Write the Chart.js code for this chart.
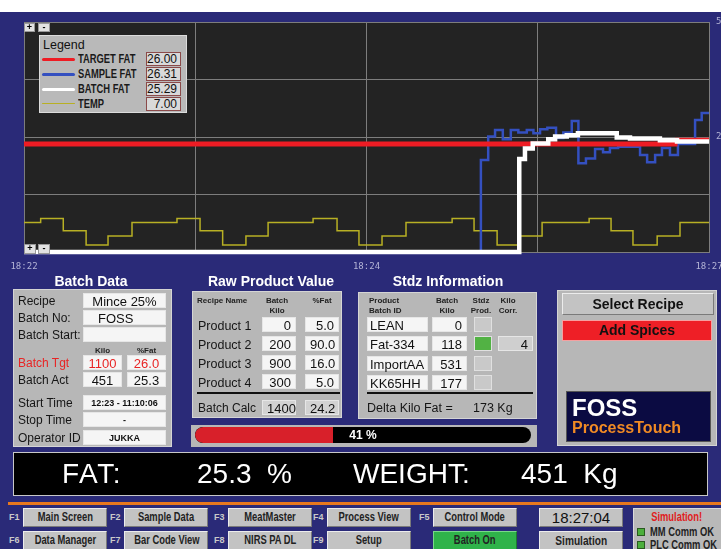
<!DOCTYPE html>
<html>
<head>
<meta charset="utf-8">
<script src="https://cdn.jsdelivr.net/npm/chart.js@4.4.0/dist/chart.umd.min.js"></script>
<style>
body { margin:0; width:721px; height:549px; overflow:hidden; background:#2a2a78; position:relative; font-family:"Liberation Sans", Arial, sans-serif; }
.a { position:absolute; box-sizing:border-box; white-space:nowrap; }
.panel { background:#b7b7b7; border:1px solid #d4d4d4; }
.fld { background:#f5f5f5; border:1px solid #e6e6e6; font-size:13px; line-height:13px; color:#111; padding:0 4px; }
.lbl { font-size:12px; line-height:14px; color:#151515; }
.hd { font:bold 8px "Liberation Sans", sans-serif; color:#222; text-align:center; line-height:10px; }
.ttl { color:#fff; font:bold 14px "Liberation Sans", Arial, sans-serif; text-align:center; width:200px; }
.btn { background:#c3c3c3; border:1px solid; border-color:#ececec #7a7a7a #7a7a7a #ececec; font:bold 12px "Liberation Sans", sans-serif; color:#222; text-align:center; }
.nar { display:inline-block; transform:scaleX(0.78); transform-origin:center; }
.narl { display:inline-block; transform:scaleX(0.78); transform-origin:left; }
.fk { font:bold 9px "Liberation Sans", sans-serif; color:#c9c9c9; }
.pm { background:#e2e2e2; border:1px solid #999; font:bold 9px "Liberation Sans", sans-serif; line-height:7px; text-align:center; color:#000; }
.lg { font:bold 12px "Liberation Sans", sans-serif; color:#1a1a1a; line-height:14px; }
.lv { background:#d9d9d9; border:1px solid #8b4a4a; font-size:12px; line-height:12px; text-align:right; padding-right:3px; color:#111; }
.big { color:#fff; font-size:28px; line-height:30px; }
</style>
</head>
<body>
<div class="a" style="left:0;top:0;width:721px;height:12px;background:#fff"></div>
<div class="a" style="left:0;top:0;width:740px;height:275px"><canvas id="myChart" width="740" height="275"></canvas></div>

<!-- zoom buttons -->
<div class="a pm" style="left:24px;top:23px;width:11px;height:9px">+</div>
<div class="a pm" style="left:38px;top:23px;width:12px;height:9px">-</div>
<div class="a pm" style="left:24px;top:244px;width:12px;height:10px">+</div>
<div class="a pm" style="left:38px;top:244px;width:12px;height:10px">-</div>

<!-- legend -->
<div class="a" id="legend" style="left:39px;top:35px;width:148px;height:78px;background:#b9b9b9;border:1px solid #dcdcdc"></div>

<!-- titles -->
<div class="a ttl" style="left:-9px;top:273px">Batch Data</div>
<div class="a ttl" style="left:171px;top:273px">Raw Product Value</div>
<div class="a ttl" style="left:348px;top:273px">Stdz Information</div>

<!-- batch data -->
<div class="a panel" style="left:13px;top:289px;width:159px;height:158px"></div>
<div class="a lbl" style="left:18px;top:294px">Recipe</div>
<div class="a fld" style="left:83px;top:293px;width:83px;height:15px;text-align:center;padding-top:1px">Mince 25%</div>
<div class="a lbl" style="left:18px;top:311px">Batch No:</div>
<div class="a fld" style="left:83px;top:310px;width:83px;height:15px;padding-left:14px;padding-top:1px">FOSS</div>
<div class="a lbl" style="left:18px;top:328px">Batch Start:</div>
<div class="a fld" style="left:83px;top:327px;width:83px;height:15px"></div>
<div class="a hd" style="left:83px;top:346px;width:39px">Kilo</div>
<div class="a hd" style="left:127px;top:346px;width:39px">%Fat</div>
<div class="a lbl" style="left:18px;top:356px;color:#e82424">Batch Tgt</div>
<div class="a fld" style="left:83px;top:355px;width:39px;height:15px;text-align:center;color:#e82424;padding-top:1px">1100</div>
<div class="a fld" style="left:127px;top:355px;width:39px;height:15px;text-align:center;color:#e82424;padding-top:1px">26.0</div>
<div class="a lbl" style="left:18px;top:373px">Batch Act</div>
<div class="a fld" style="left:83px;top:372px;width:39px;height:15px;text-align:center;padding-top:1px">451</div>
<div class="a fld" style="left:127px;top:372px;width:39px;height:15px;text-align:center;padding-top:1px">25.3</div>
<div class="a lbl" style="left:18px;top:396px">Start Time</div>
<div class="a fld" style="left:83px;top:395px;width:83px;height:15px;text-align:center;font:bold 9px 'Liberation Sans';line-height:14px">12:23 - 11:10:06</div>
<div class="a lbl" style="left:18px;top:413px">Stop Time</div>
<div class="a fld" style="left:83px;top:412px;width:83px;height:15px;text-align:center;font:bold 9px 'Liberation Sans';line-height:14px">-</div>
<div class="a lbl" style="left:18px;top:431px">Operator ID</div>
<div class="a fld" style="left:83px;top:430px;width:83px;height:15px;text-align:center;font:bold 9px 'Liberation Sans';line-height:14px">JUKKA</div>

<!-- raw product -->
<div class="a panel" style="left:192px;top:291px;width:150px;height:127px"></div>
<div class="a hd" style="left:197px;top:296px;text-align:left">Recipe Name</div>
<div class="a hd" style="left:262px;top:296px;width:30px">Batch<br>Kilo</div>
<div class="a hd" style="left:307px;top:296px;width:30px">%Fat</div>
<div id="raw"></div>
<div class="a" style="left:197px;top:392px;width:143px;height:2px;background:#111"></div>
<div class="a lbl" style="left:198px;top:401px">Batch Calc</div>
<div class="a fld" style="left:262px;top:400px;width:34px;height:15px;text-align:center;background:#d2d2d2;padding-top:1px">1400</div>
<div class="a fld" style="left:305px;top:400px;width:34px;height:15px;text-align:center;background:#d2d2d2;padding-top:1px">24.2</div>

<!-- stdz -->
<div class="a panel" style="left:358px;top:292px;width:179px;height:127px"></div>
<div class="a hd" style="left:369px;top:296px;text-align:left">Product<br>Batch ID</div>
<div class="a hd" style="left:432px;top:296px;width:30px">Batch<br>Kilo</div>
<div class="a hd" style="left:468px;top:296px;width:26px">Stdz<br>Prod.</div>
<div class="a hd" style="left:495px;top:296px;width:26px">Kilo<br>Corr.</div>
<div id="stdz"></div>
<div class="a fld" style="left:498px;top:336px;width:35px;height:15px;text-align:right;background:#cfcfcf;padding-top:1px">4</div>
<div class="a" style="left:367px;top:392px;width:166px;height:2px;background:#111"></div>
<div class="a lbl" style="left:367px;top:401px;font-size:12.5px">Delta Kilo Fat =</div>
<div class="a lbl" style="left:473px;top:401px;font-size:12.5px">173 Kg</div>

<!-- progress -->
<div class="a" style="left:191px;top:425px;width:346px;height:22px;background:#b7b7b7"></div>
<div class="a" style="left:195px;top:427px;width:336px;height:16px;background:#000;border-radius:8px;overflow:hidden">
  <div class="a" style="left:0;top:0;width:138px;height:16px;background:#d8202a;border-radius:8px 0 0 8px"></div>
  <div class="a" style="left:0;top:1px;width:336px;text-align:center;color:#fff;font:bold 12px 'Liberation Sans';line-height:14px">41 %</div>
</div>

<!-- right panel -->
<div class="a panel" style="left:557px;top:290px;width:160px;height:156px"></div>
<div class="a btn" style="left:562px;top:293px;width:152px;height:22px;font:bold 14px 'Liberation Sans';line-height:20px;color:#111">Select Recipe</div>
<div class="a" style="left:562px;top:320px;width:150px;height:21px;background:#ee1f26;border:1px solid #f5a0a0;text-align:center;font:bold 14px 'Liberation Sans';line-height:19px;color:#111">Add Spices</div>
<div class="a" style="left:566px;top:391px;width:145px;height:51px;background:#0b0b42;border:1px solid #555">
  <div class="a" style="left:5px;top:3px;color:#fff;font:bold 24px 'Liberation Sans';line-height:26px">FOSS</div>
  <div class="a" style="left:5px;top:27px;color:#f08a24;font:bold 16px 'Liberation Sans';line-height:18px">ProcessTouch</div>
</div>

<!-- big display -->
<div class="a" style="left:13px;top:452px;width:695px;height:44px;background:#000;border:1px solid #c8c8c8"></div>
<div class="a big" style="left:62px;top:459px;letter-spacing:1.5px">FAT:</div>
<div class="a big" style="left:197px;top:459px">25.3&nbsp; %</div>
<div class="a big" style="left:353px;top:459px">WEIGHT:</div>
<div class="a big" style="left:521px;top:459px">451&nbsp; Kg</div>
<div class="a" style="left:8px;top:502px;width:713px;height:3px;background:#e8781e"></div>

<div id="keys"></div>

<!-- time and status -->
<div class="a btn" style="left:539px;top:508px;width:84px;height:19px;font:15px 'Liberation Sans';line-height:17px;color:#111">18:27:04</div>
<div class="a btn" style="left:539px;top:531px;width:84px;height:19px;font-size:13px;line-height:17px"><span class="nar">Simulation</span></div>
<div class="a" style="left:633px;top:508px;width:90px;height:42px;background:#b9b9b9;border:1px solid #dadada">
  <div class="a" style="left:0;top:1px;width:86px;text-align:center;color:#e02020;font:bold 12px 'Liberation Sans'"><span class="nar">Simulation!</span></div>
  <div class="a" style="left:3px;top:19px;width:8px;height:8px;background:#4caf3c;border:1px solid #2a5a20"></div>
  <div class="a" style="left:16px;top:16px;font:bold 12px 'Liberation Sans';color:#222"><span class="narl">MM Comm OK</span></div>
  <div class="a" style="left:3px;top:32px;width:8px;height:8px;background:#4caf3c;border:1px solid #2a5a20"></div>
  <div class="a" style="left:16px;top:29px;font:bold 12px 'Liberation Sans';color:#222"><span class="narl">PLC Comm OK</span></div>
</div>

<script>
// chart data (x = seconds after 18:22)
const timeTickSec = [0, 150, 300];
const timeTickLabels = ['18:22', '18:24', '18:27'];
const fatTickValues = [50, 25];
const fatTickLabels = ['50', '25'];

const seriesNames = ['TARGET FAT', 'SAMPLE FAT', 'BATCH FAT', 'TEMP'];
const seriesColors = ['#ee1c24', '#3450c0', '#ffffff', '#b8b024'];
const legendValues = ['26.00', '26.31', '25.29', '7.00'];

const targetSec = [0, 285.1, 300];
const targetFat = [23.5, 24.5, 24.5];

const sampleSec = [0, 200.1, 203.3, 206.3, 209.7, 213.2, 216.5, 220.2, 223.1, 226.0, 229.2, 233.0, 236.2, 239.9,
  242.8, 246.1, 250.1, 253.6, 256.6, 260.2, 269.8, 272.9, 276.4, 279.4, 282.9, 286.4, 293.9, 296.8, 300];
const sampleFat = [0, 20.0, 25.1, 26.5, 24.5, 26.5, 26.0, 26.5, 25.8, 26.7, 27.0, 24.8, 26.0, 28.5,
  19.3, 20.3, 22.4, 21.7, 22.6, 22.9, 21.1, 19.5, 21.1, 22.6, 21.1, 23.5, 28.7, 30.2, 30.2];

const batchSec = [0, 216.9, 219.4, 222.8, 229.6, 232.6, 237.7, 242.6, 259.6, 265.4, 278.5, 286.0, 300];
const batchFat = [0, 20.2, 22.5, 23.6, 24.5, 25.1, 25.4, 25.8, 24.9, 24.7, 24.3, 24.0, 24.0];

const tempSec = [0, 7.3, 17.2, 27.2, 36.8, 47.3, 67.0, 77.1, 87.0, 97.2, 106.9, 126.6, 137.1, 146.7,
  156.8, 167.3, 187.5, 197.1, 207.2, 217.2, 226.9, 247.5, 257.1, 266.7, 277.3, 287.3, 300];
const tempVal = [6.4, 7.3, 4.6, 1.5, 3.5, 6.4, 7.3, 4.6, 1.5, 3.5, 6.4, 7.3, 4.6, 1.5,
  3.5, 6.4, 7.3, 4.6, 1.5, 3.5, 6.4, 7.3, 4.6, 1.5, 3.5, 6.4, 6.4];

// panel contents
const rawNames = ['Product 1', 'Product 2', 'Product 3', 'Product 4'];
const rawKilo = ['0', '200', '900', '300'];
const rawFat = ['5.0', '90.0', '16.0', '5.0'];
const stdzIds = ['LEAN', 'Fat-334', 'ImportAA', 'KK65HH'];
const stdzKilo = ['0', '118', '531', '177'];
const stdzOn = [false, true, false, false];
const keyNames = [['F1', 'Main Screen'], ['F2', 'Sample Data'], ['F3', 'MeatMaster'], ['F4', 'Process View'], ['F5', 'Control Mode'],
  ['F6', 'Data Manager'], ['F7', 'Bar Code View'], ['F8', 'NIRS PA DL'], ['F9', 'Setup'], ['', 'Batch On']];

function pts(xs, ys) {
    return xs.map(function (x, i) { return { x: x, y: ys[i] }; });
}

function box(cls, style, text) {
    return '<div class="a ' + cls + '" style="' + style + '">' + text + '</div>';
}

// legend box
var lg = box('', 'left:3px;top:2px;font-size:12.5px;color:#111', 'Legend');
for (var i = 0; i < seriesNames.length; i++) {
    var rowTop = 16 + i * 15;
    lg += box('', 'left:2px;top:' + (rowTop + 6) + 'px;width:33px;height:' + (i == 3 ? 1 : 3) + 'px;background:' + seriesColors[i] + ';border-radius:2px', '');
    lg += box('lg', 'left:38px;top:' + rowTop + 'px', '<span class="narl">' + seriesNames[i] + '</span>');
    lg += box('lv', 'left:106px;top:' + rowTop + 'px;width:35px;height:14px', legendValues[i]);
}
document.getElementById('legend').innerHTML = lg;

var raw = '';
for (var i = 0; i < rawNames.length; i++) {
    var t = 317 + i * 19;
    raw += box('lbl', 'left:198px;top:' + (t + 2) + 'px;font-size:12.5px', rawNames[i]);
    raw += box('fld', 'left:262px;top:' + t + 'px;width:34px;height:15px;text-align:right;padding-top:1px', rawKilo[i]);
    raw += box('fld', 'left:305px;top:' + t + 'px;width:34px;height:15px;text-align:right;padding-top:1px', rawFat[i]);
}
document.getElementById('raw').innerHTML = raw;

var st = '';
for (var i = 0; i < stdzIds.length; i++) {
    var t = 317 + i * 19.3;
    st += box('fld', 'left:367px;top:' + t + 'px;width:61px;height:15px;padding-left:2px;padding-top:1px', stdzIds[i]);
    st += box('fld', 'left:432px;top:' + t + 'px;width:35px;height:15px;text-align:right;padding-top:1px', stdzKilo[i]);
    st += box('', 'left:474px;top:' + t + 'px;width:18px;height:15px;border:1px solid #e0e0e0;background:' + (stdzOn[i] ? '#52b244' : '#c9c9c9'), '');
}
document.getElementById('stdz').innerHTML = st;

var lefts = [23, 124, 228, 327, 433];
var keys = '';
for (var i = 0; i < keyNames.length; i++) {
    var col = i % 5, t = i < 5 ? 508 : 531;
    if (keyNames[i][0]) keys += box('fk', 'left:' + (lefts[col] - 14) + 'px;top:' + (t + 4) + 'px', keyNames[i][0]);
    var green = keyNames[i][1] == 'Batch On';
    keys += box('btn', 'left:' + lefts[col] + 'px;top:' + t + 'px;width:84px;height:19px;line-height:17px' +
        (green ? ';background:#2fb34a;border-color:#7ad88a #1d7a30 #1d7a30 #7ad88a' : ''), '<span class="nar">' + keyNames[i][1] + '</span>');
}
document.getElementById('keys').innerHTML = keys;

const plotBg = {
    id: 'plotBg',
    beforeDraw: function (chart) {
        var a = chart.chartArea, c = chart.ctx;
        c.save();
        c.fillStyle = '#232323';
        c.fillRect(a.left, a.top, a.right - a.left, a.bottom - a.top);
        c.restore();
    }
};

const gridColor = '#7d7d7d';
const tickFont = { family: 'DejaVu Sans Mono', size: 9 };

const ctx = document.getElementById('myChart');
const myChart = new Chart(ctx, {
    type: 'line',
    data: {
        datasets: [
            { label: seriesNames[2], data: pts(batchSec, batchFat), borderColor: seriesColors[2], borderWidth: 4.5 },
            { label: seriesNames[0], data: pts(targetSec, targetFat), borderColor: seriesColors[0], borderWidth: 5,
              segment: { borderWidth: function (c) { return c.p0DataIndex >= 1 ? 3 : 5; } } },
            { label: seriesNames[1], data: pts(sampleSec, sampleFat), borderColor: seriesColors[1], borderWidth: 2.5 },
            { label: seriesNames[3], data: pts(tempSec, tempVal), borderColor: seriesColors[3], borderWidth: 1.5 }
        ]
    },
    options: {
        responsive: false,
        animation: false,
        layout: { padding: { left: 24, top: 22, right: 0, bottom: 0 } },
        datasets: { line: { stepped: true, pointRadius: 0, fill: false, clip: 5, borderJoinStyle: 'miter' } },
        plugins: { legend: { display: false }, tooltip: { enabled: false } },
        scales: {
            x: {
                type: 'linear', min: 0, max: 300,
                grid: { color: gridColor, drawTicks: false },
                border: { color: gridColor },
                ticks: {
                    stepSize: 75, autoSkip: false, maxRotation: 0, padding: 9, color: '#b4b4d6', font: tickFont,
                    callback: function (v) { var i = timeTickSec.indexOf(v); return i < 0 ? '' : timeTickLabels[i]; }
                },
                afterFit: function (s) { s.height = 23; }
            },
            y: {
                position: 'right', min: 0, max: 50,
                grid: { color: gridColor, drawTicks: false },
                border: { color: gridColor },
                ticks: {
                    stepSize: 12.5, padding: 7, color: '#b4b4d6', font: tickFont,
                    callback: function (v) { var i = fatTickValues.indexOf(v); return i < 0 ? '' : fatTickLabels[i]; }
                },
                afterFit: function (s) { s.width = 31; }
            }
        }
    },
    plugins: [plotBg]
});
</script>
</body>
</html>
